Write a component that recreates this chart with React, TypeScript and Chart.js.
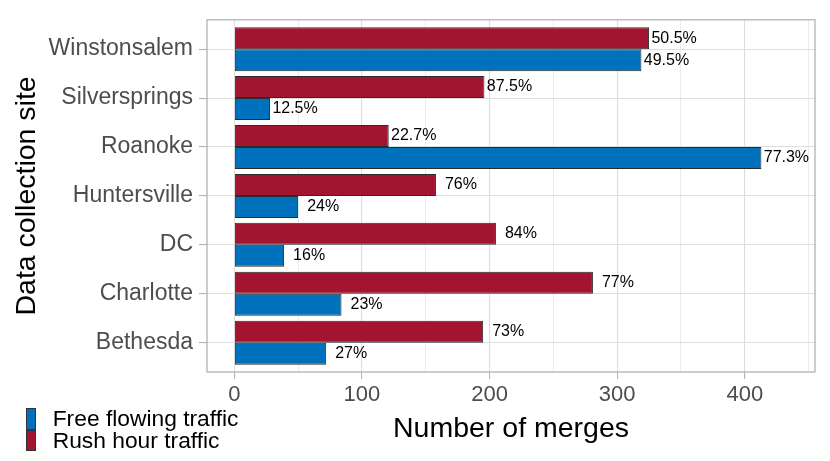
import { useEffect, useRef } from "react";
import { Chart, registerables } from "chart.js";

Chart.register(...registerables);

const FONT = "'Liberation Sans', Arial, Helvetica, sans-serif";

// top to bottom, as in the picture
const sites = ["Winstonsalem", "Silversprings", "Roanoke", "Huntersville", "DC", "Charlotte", "Bethesda"];
const rushHour = [325, 196, 121, 158, 205, 281, 195];
const freeFlowing = [319, 28, 413, 50, 39, 84, 72];
const rushLabels = ["50.5%", "87.5%", "22.7%", "76%", "84%", "77%", "73%"];
const freeLabels = ["49.5%", "12.5%", "77.3%", "24%", "16%", "23%", "27%"];
const xTicks = [0, 50, 100, 150, 200, 250, 300, 350, 400, 450];

const BLUE = "#0072BD";
const RED = "#A2142F";
const LABEL_NUDGE = 19.6;

const legendItems = [
  { label: "Free flowing traffic", color: BLUE },
  { label: "Rush hour traffic", color: RED },
];

const barLabels = {
  id: "barLabels",
  afterDatasetsDraw(chart: any) {
    const { ctx } = chart;
    const xScale = chart.scales.x;
    ctx.save();
    ctx.font = `16px ${FONT}`;
    ctx.fillStyle = "#000000";
    ctx.textAlign = "center";
    ctx.textBaseline = "middle";
    chart.data.datasets.forEach((ds: any, di: number) => {
      const meta = chart.getDatasetMeta(di);
      const texts = di === 0 ? rushLabels : freeLabels;
      meta.data.forEach((bar: any, i: number) => {
        const v = ds.data[i].x;
        ctx.fillText(texts[i], xScale.getPixelForValue(v + LABEL_NUDGE), bar.y);
      });
    });
    ctx.restore();
  },
};

const panelBorder = {
  id: "panelBorder",
  afterDatasetsDraw(chart: any) {
    const { ctx, chartArea: a } = chart;
    ctx.save();
    ctx.strokeStyle = "#b3b3b3";
    ctx.lineWidth = 1.3;
    ctx.strokeRect(a.left, a.top, a.right - a.left, a.bottom - a.top);
    ctx.restore();
  },
};

export default function App() {
  const canvasRef = useRef<HTMLCanvasElement | null>(null);

  useEffect(() => {
    document.body.style.margin = "0";
    if (!canvasRef.current) return;

    const chart = new Chart(canvasRef.current, {
      type: "bar",
      data: {
        datasets: [
          {
            label: "Rush hour traffic",
            data: rushHour.map((v, i) => ({ x: v, y: i })),
            backgroundColor: RED,
            borderColor: "#2b2b2b",
            borderWidth: 1,
            borderSkipped: false,
          },
          {
            label: "Free flowing traffic",
            data: freeFlowing.map((v, i) => ({ x: v, y: i })),
            backgroundColor: BLUE,
            borderColor: "#2b2b2b",
            borderWidth: 1,
            borderSkipped: false,
          },
        ],
      },
      options: {
        indexAxis: "y",
        animation: false,
        responsive: true,
        maintainAspectRatio: false,
        layout: { padding: { top: 14, right: 15, left: 0, bottom: 0 } },
        datasets: { bar: { categoryPercentage: 0.9, barPercentage: 1 } },
        plugins: {
          legend: { display: false },
          tooltip: { enabled: false },
        },
        scales: {
          x: {
            type: "linear",
            min: -21.4,
            max: 455,
            offset: false,
            afterBuildTicks: (s: any) => {
              s.ticks = xTicks.map((value) => ({ value }));
            },
            afterFit: (s: any) => {
              s.height = 89;
            },
            border: { display: false },
            grid: {
              offset: false,
              color: "#dedede",
              lineWidth: (c: any) => (c.tick && c.tick.value % 100 === 0 ? 1.1 : 0.6),
              tickColor: (c: any) => (c.tick && c.tick.value % 100 === 0 ? "#b3b3b3" : "rgba(0,0,0,0)"),
              tickLength: 7,
            },
            ticks: {
              color: "#4d4d4d",
              font: { size: 22, family: FONT },
              padding: 3,
              maxRotation: 0,
              callback: (v: any) => (Number(v) % 100 === 0 ? String(v) : ""),
            },
            title: {
              display: true,
              text: "Number of merges",
              color: "#000000",
              font: { size: 28.5, family: FONT },
              padding: { top: 0, bottom: 15 },
            },
          },
          y: {
            type: "linear",
            reverse: true,
            min: -0.6,
            max: 6.6,
            offset: false,
            afterBuildTicks: (s: any) => {
              s.ticks = sites.map((_, i) => ({ value: i }));
            },
            afterFit: (s: any) => {
              s.width = 207;
            },
            border: { display: false },
            grid: {
              offset: false,
              color: "#dedede",
              lineWidth: 1.1,
              tickColor: "#b3b3b3",
              tickLength: 8,
            },
            ticks: {
              color: "#4d4d4d",
              font: { size: 23, family: FONT },
              padding: 6,
              callback: (v: any) => sites[Number(v)] ?? "",
            },
            title: {
              display: true,
              text: "Data collection site",
              color: "#000000",
              font: { size: 28.5, family: FONT },
              padding: { top: 10, bottom: 0 },
            },
          },
        },
      } as any,
      plugins: [barLabels, panelBorder],
    });

    return () => chart.destroy();
  }, []);

  return (
    <div style={{ position: "relative", width: 830, height: 461, background: "#ffffff" }}>
      <canvas ref={canvasRef} />
      <div style={{ position: "absolute", left: 26, top: 408, fontFamily: FONT }}>
        {legendItems.map((item) => (
          <div key={item.label} style={{ display: "flex", alignItems: "center", height: 21.7 }}>
            <div
              style={{
                width: 10,
                height: 21.7,
                boxSizing: "border-box",
                background: item.color,
                border: "0.5px solid #333333",
              }}
            />
            <span style={{ marginLeft: 16.7, fontSize: 22.8, color: "#000000", lineHeight: "21.7px" }}>
              {item.label}
            </span>
          </div>
        ))}
      </div>
    </div>
  );
}
